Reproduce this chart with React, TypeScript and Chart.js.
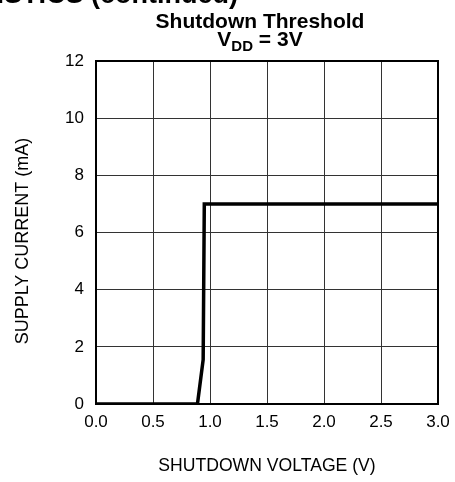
import React, { useEffect, useRef } from "react";
import { Chart, registerables } from "chart.js";

Chart.register(...registerables);

const voltage = [0, 0.89, 0.94, 0.95, 3.0];
const current = [0, 0, 1.55, 7, 7];
const xMin = 0;
const xMax = 3;
const xStep = 0.5;
const yMin = 0;
const yMax = 12;
const yStep = 2;
const titleLine1 = "Shutdown Threshold";
const titleV = "V";
const titleSub = "DD";
const titleRest = " = 3V";
const headerText = "TYPICAL CHARACTERISTICS (continued)";
const xTitle = "SHUTDOWN VOLTAGE (V)";
const yTitle = "SUPPLY CURRENT (mA)";

const FONT = "Arial, 'Liberation Sans', Helvetica, sans-serif";

const decorPlugin = {
  id: "decor",
  afterDraw(chart: any) {
    const { ctx, chartArea } = chart;
    ctx.save();
    // frame
    ctx.strokeStyle = "#000";
    ctx.lineWidth = 2;
    ctx.strokeRect(chartArea.left, chartArea.top, chartArea.right - chartArea.left, chartArea.bottom - chartArea.top);
    ctx.fillStyle = "#000";
    // y axis title
    ctx.save();
    ctx.font = `18px ${FONT}`;
    ctx.textAlign = "center";
    ctx.textBaseline = "middle";
    ctx.translate(23, 241);
    ctx.rotate(-Math.PI / 2);
    ctx.fillText(yTitle, 0, 0);
    ctx.restore();
    // cut-off header
    ctx.textBaseline = "alphabetic";
    ctx.font = `bold 27px ${FONT}`;
    ctx.textAlign = "right";
    ctx.fillText(headerText, 238, 3);
    // title
    const cx = 260;
    ctx.font = `bold 21px ${FONT}`;
    ctx.textAlign = "center";
    ctx.fillText(titleLine1, cx, 28);
    ctx.textAlign = "left";
    const big = `bold 21px ${FONT}`;
    const small = `bold 15px ${FONT}`;
    ctx.font = big;
    const wV = ctx.measureText(titleV).width;
    const wR = ctx.measureText(titleRest).width;
    ctx.font = small;
    const wS = ctx.measureText(titleSub).width;
    const total = wV + wS + wR;
    let x = cx - total / 2;
    const base = 46;
    ctx.font = big;
    ctx.fillText(titleV, x, base);
    x += wV;
    ctx.font = small;
    ctx.fillText(titleSub, x, base + 5);
    x += wS;
    ctx.font = big;
    ctx.fillText(titleRest, x, base);
    ctx.restore();
  },
};

export default function App() {
  const ref = useRef<HTMLCanvasElement | null>(null);
  useEffect(() => {
    if (!ref.current) return;
    const data = voltage.map((v, i) => ({ x: v, y: current[i] }));
    const chart = new Chart(ref.current, {
      type: "line",
      data: {
        datasets: [
          {
            data,
            borderColor: "#000",
            borderWidth: 3.5,
            pointRadius: 0,
            tension: 0,
            fill: false,
          },
        ],
      },
      options: {
        animation: false,
        responsive: false,
        maintainAspectRatio: false,
        layout: { padding: { left: 0, right: 17, top: 61, bottom: 0 } },
        plugins: {
          legend: { display: false },
          tooltip: { enabled: false },
          title: { display: false },
        },
        scales: {
          x: {
            type: "linear",
            min: xMin,
            max: xMax,
            ticks: {
              stepSize: xStep,
              color: "#000",
              font: { family: FONT, size: 17 },
              padding: 8,
              maxRotation: 0,
              callback: (v: any) => Number(v).toFixed(1),
            },
            grid: { color: "#333", lineWidth: 1, drawTicks: false },
            border: { display: true, color: "#000", width: 2 },
            title: {
              display: true,
              text: xTitle,
              color: "#000",
              font: { family: FONT, size: 17.6 },
              padding: { top: 0, bottom: 5 },
            },
            afterFit: (s: any) => {
              s.height = 78;
              s.paddingLeft = 0;
              s.paddingRight = 0;
            },
          },
          y: {
            type: "linear",
            min: yMin,
            max: yMax,
            ticks: {
              stepSize: yStep,
              color: "#000",
              font: { family: FONT, size: 17 },
              padding: 12,
            },
            grid: { color: "#333", lineWidth: 1, drawTicks: false },
            border: { display: true, color: "#000", width: 2 },
            title: { display: false },
            afterFit: (s: any) => {
              s.width = 96;
              s.paddingTop = 0;
              s.paddingBottom = 0;
            },
          },
        },
      },
      plugins: [decorPlugin],
    });
    return () => chart.destroy();
  }, []);
  return (
    <div style={{ position: "fixed", left: 0, top: 0, width: 455, height: 482, background: "#fff" }}>
      <canvas ref={ref} width={455} height={482} style={{ display: "block" }} />
    </div>
  );
}
